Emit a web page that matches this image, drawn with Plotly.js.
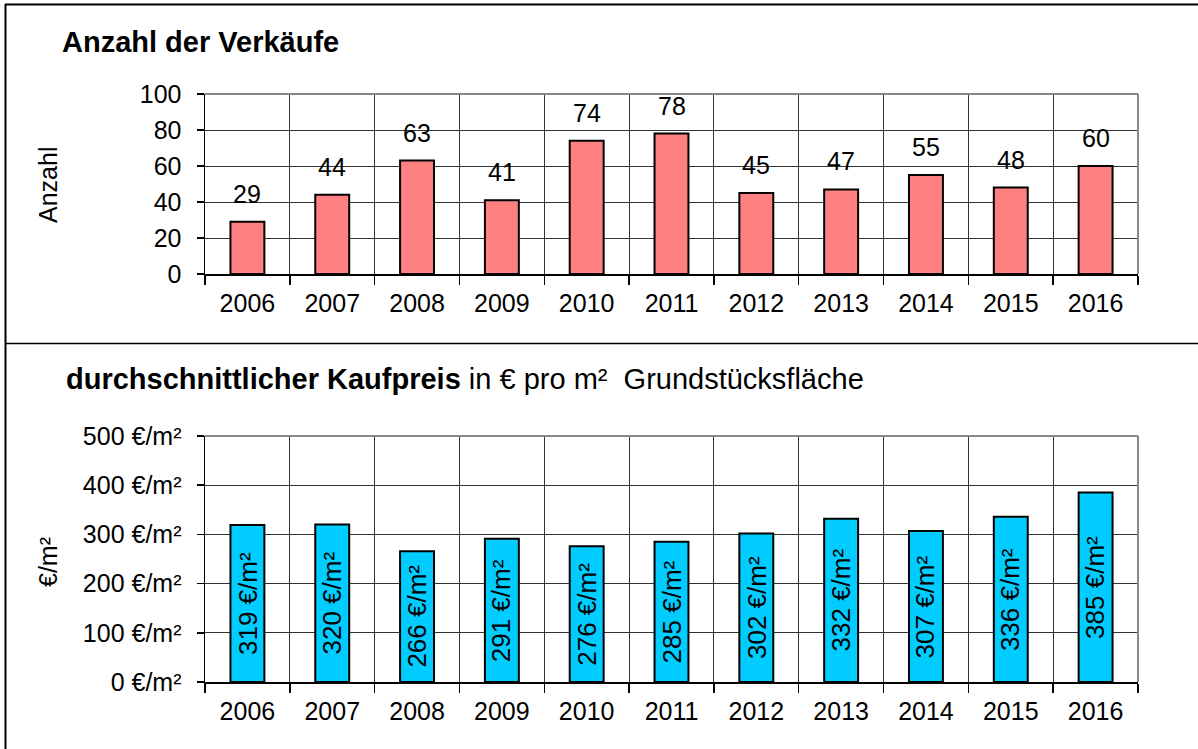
<!DOCTYPE html>
<html>
<head>
<meta charset="utf-8">
<script src="https://cdn.plot.ly/plotly-3.0.1.min.js"></script>
<style>html,body{margin:0;padding:0;background:#fff;}#chart{width:1198px;height:749px;}</style>
</head>
<body>
<div id="chart"></div>
<script>
const years = ['2006','2007','2008','2009','2010','2011','2012','2013','2014','2015','2016'];
const salesCount = [29, 44, 63, 41, 74, 78, 45, 47, 55, 48, 60];
const avgPrice = [319, 320, 266, 291, 276, 285, 302, 332, 307, 336, 385];
const countTicks = [0, 20, 40, 60, 80, 100];
const priceTicks = [0, 100, 200, 300, 400, 500];

const W = 1198, H = 749;
const px = v => v / W;
const py = v => 1 - v / H;
const FONT = 'Liberation Sans, Arial, sans-serif';

const traces = [
  {
    type: 'bar', x: years, y: salesCount, xaxis: 'x', yaxis: 'y',
    width: 0.4,
    marker: {color: '#FF8080', line: {color: '#000', width: 2}},
    hoverinfo: 'x+y'
  },
  {
    type: 'bar', x: years, y: avgPrice, xaxis: 'x2', yaxis: 'y2',
    width: 0.4,
    marker: {color: '#00CCFF', line: {color: '#000', width: 2}},
    hoverinfo: 'x+y'
  }
];

const xCommon = {
  type: 'category', tickson: 'boundaries', showgrid: true, gridcolor: '#333', gridwidth: 1,
  ticks: 'outside', ticklen: 9, tickcolor: '#000', tickwidth: 1.5,
  showline: true, linecolor: '#000', linewidth: 1.5,
  tickfont: {family: FONT, size: 25, color: '#000'}, ticklabelstandoff: 6,
  zeroline: false, fixedrange: true, range: [-0.5, years.length - 0.5], autorange: false
};
const yCommon = {
  showgrid: true, gridcolor: '#333', gridwidth: 1,
  ticks: 'outside', ticklen: 7, tickcolor: '#000', tickwidth: 1.5,
  showline: true, linecolor: '#000', linewidth: 1.5,
  tickfont: {family: FONT, size: 25, color: '#000'}, ticklabelstandoff: 10,
  zeroline: false, fixedrange: true
};

const annotations = [];
salesCount.forEach((v, i) => {
  annotations.push({
    xref: 'x', yref: 'y', x: i, y: v, text: String(v), showarrow: false,
    yanchor: 'bottom', yshift: 12, font: {family: FONT, size: 25, color: '#000'}
  });
});
avgPrice.forEach((v, i) => {
  annotations.push({
    xref: 'x2', yref: 'y2', x: i, y: v / 2, text: v + ' €/m²', showarrow: false,
    textangle: -90, xanchor: 'center', yanchor: 'middle',
    font: {family: FONT, size: 26, color: '#000'}
  });
});
annotations.push(
  {xref: 'paper', yref: 'paper', x: px(60), y: py(42), xanchor: 'left', yanchor: 'middle',
   text: '<b>Anzahl der Verkäufe</b>', showarrow: false, font: {family: FONT, size: 29, color: '#000'}},
  {xref: 'paper', yref: 'paper', x: px(64), y: py(379), xanchor: 'left', yanchor: 'middle',
   text: '<b>durchschnittlicher Kaufpreis</b> in € pro m²  Grundstücksfläche', showarrow: false,
   font: {family: FONT, size: 29, color: '#000'}},
  {xref: 'paper', yref: 'paper', x: px(48), y: py(185), xanchor: 'center', yanchor: 'middle',
   text: 'Anzahl', textangle: -90, showarrow: false, font: {family: FONT, size: 25, color: '#000'}},
  {xref: 'paper', yref: 'paper', x: px(48), y: py(562), xanchor: 'center', yanchor: 'middle',
   text: '€/m²', textangle: -90, showarrow: false, font: {family: FONT, size: 25, color: '#000'}}
);

const shapes = [
  {type: 'line', xref: 'paper', yref: 'paper', x0: px(5), x1: 1, y0: py(4.5), y1: py(4.5), line: {color: '#000', width: 2}},
  {type: 'line', xref: 'paper', yref: 'paper', x0: px(5.5), x1: px(5.5), y0: py(4), y1: 0, line: {color: '#000', width: 2}},
  {type: 'line', xref: 'paper', yref: 'paper', x0: px(5), x1: 1, y0: py(343.5), y1: py(343.5), line: {color: '#000', width: 1.5}},
  {type: 'line', xref: 'x domain', yref: 'y domain', x0: 0, x1: 1, y0: 1, y1: 1, line: {color: '#888', width: 2}},
  {type: 'line', xref: 'x domain', yref: 'y domain', x0: 1, x1: 1, y0: 0, y1: 1, line: {color: '#888', width: 2}},
  {type: 'line', xref: 'x2 domain', yref: 'y2 domain', x0: 0, x1: 1, y0: 1, y1: 1, line: {color: '#888', width: 2}},
  {type: 'line', xref: 'x2 domain', yref: 'y2 domain', x0: 1, x1: 1, y0: 0, y1: 1, line: {color: '#888', width: 2}}
];

const layout = {
  width: W, height: H,
  margin: {l: 0, r: 0, t: 0, b: 0, pad: 0},
  paper_bgcolor: '#fff', plot_bgcolor: '#fff',
  showlegend: false, bargap: 0.6,
  font: {family: FONT, color: '#000'},
  xaxis: Object.assign({}, xCommon, {domain: [px(205), px(1138)], anchor: 'y'}),
  yaxis: Object.assign({}, yCommon, {domain: [py(274), py(94)], anchor: 'x', range: [0, 100],
    tickvals: countTicks, ticktext: countTicks.map(String)}),
  xaxis2: Object.assign({}, xCommon, {domain: [px(205), px(1138)], anchor: 'y2'}),
  yaxis2: Object.assign({}, yCommon, {domain: [py(682), py(436)], anchor: 'x2', range: [0, 500],
    tickvals: priceTicks, ticktext: priceTicks.map(v => v + ' €/m²')}),
  annotations: annotations,
  shapes: shapes
};

Plotly.newPlot('chart', traces, layout, {staticPlot: true, displayModeBar: false});
</script>
</body>
</html>
